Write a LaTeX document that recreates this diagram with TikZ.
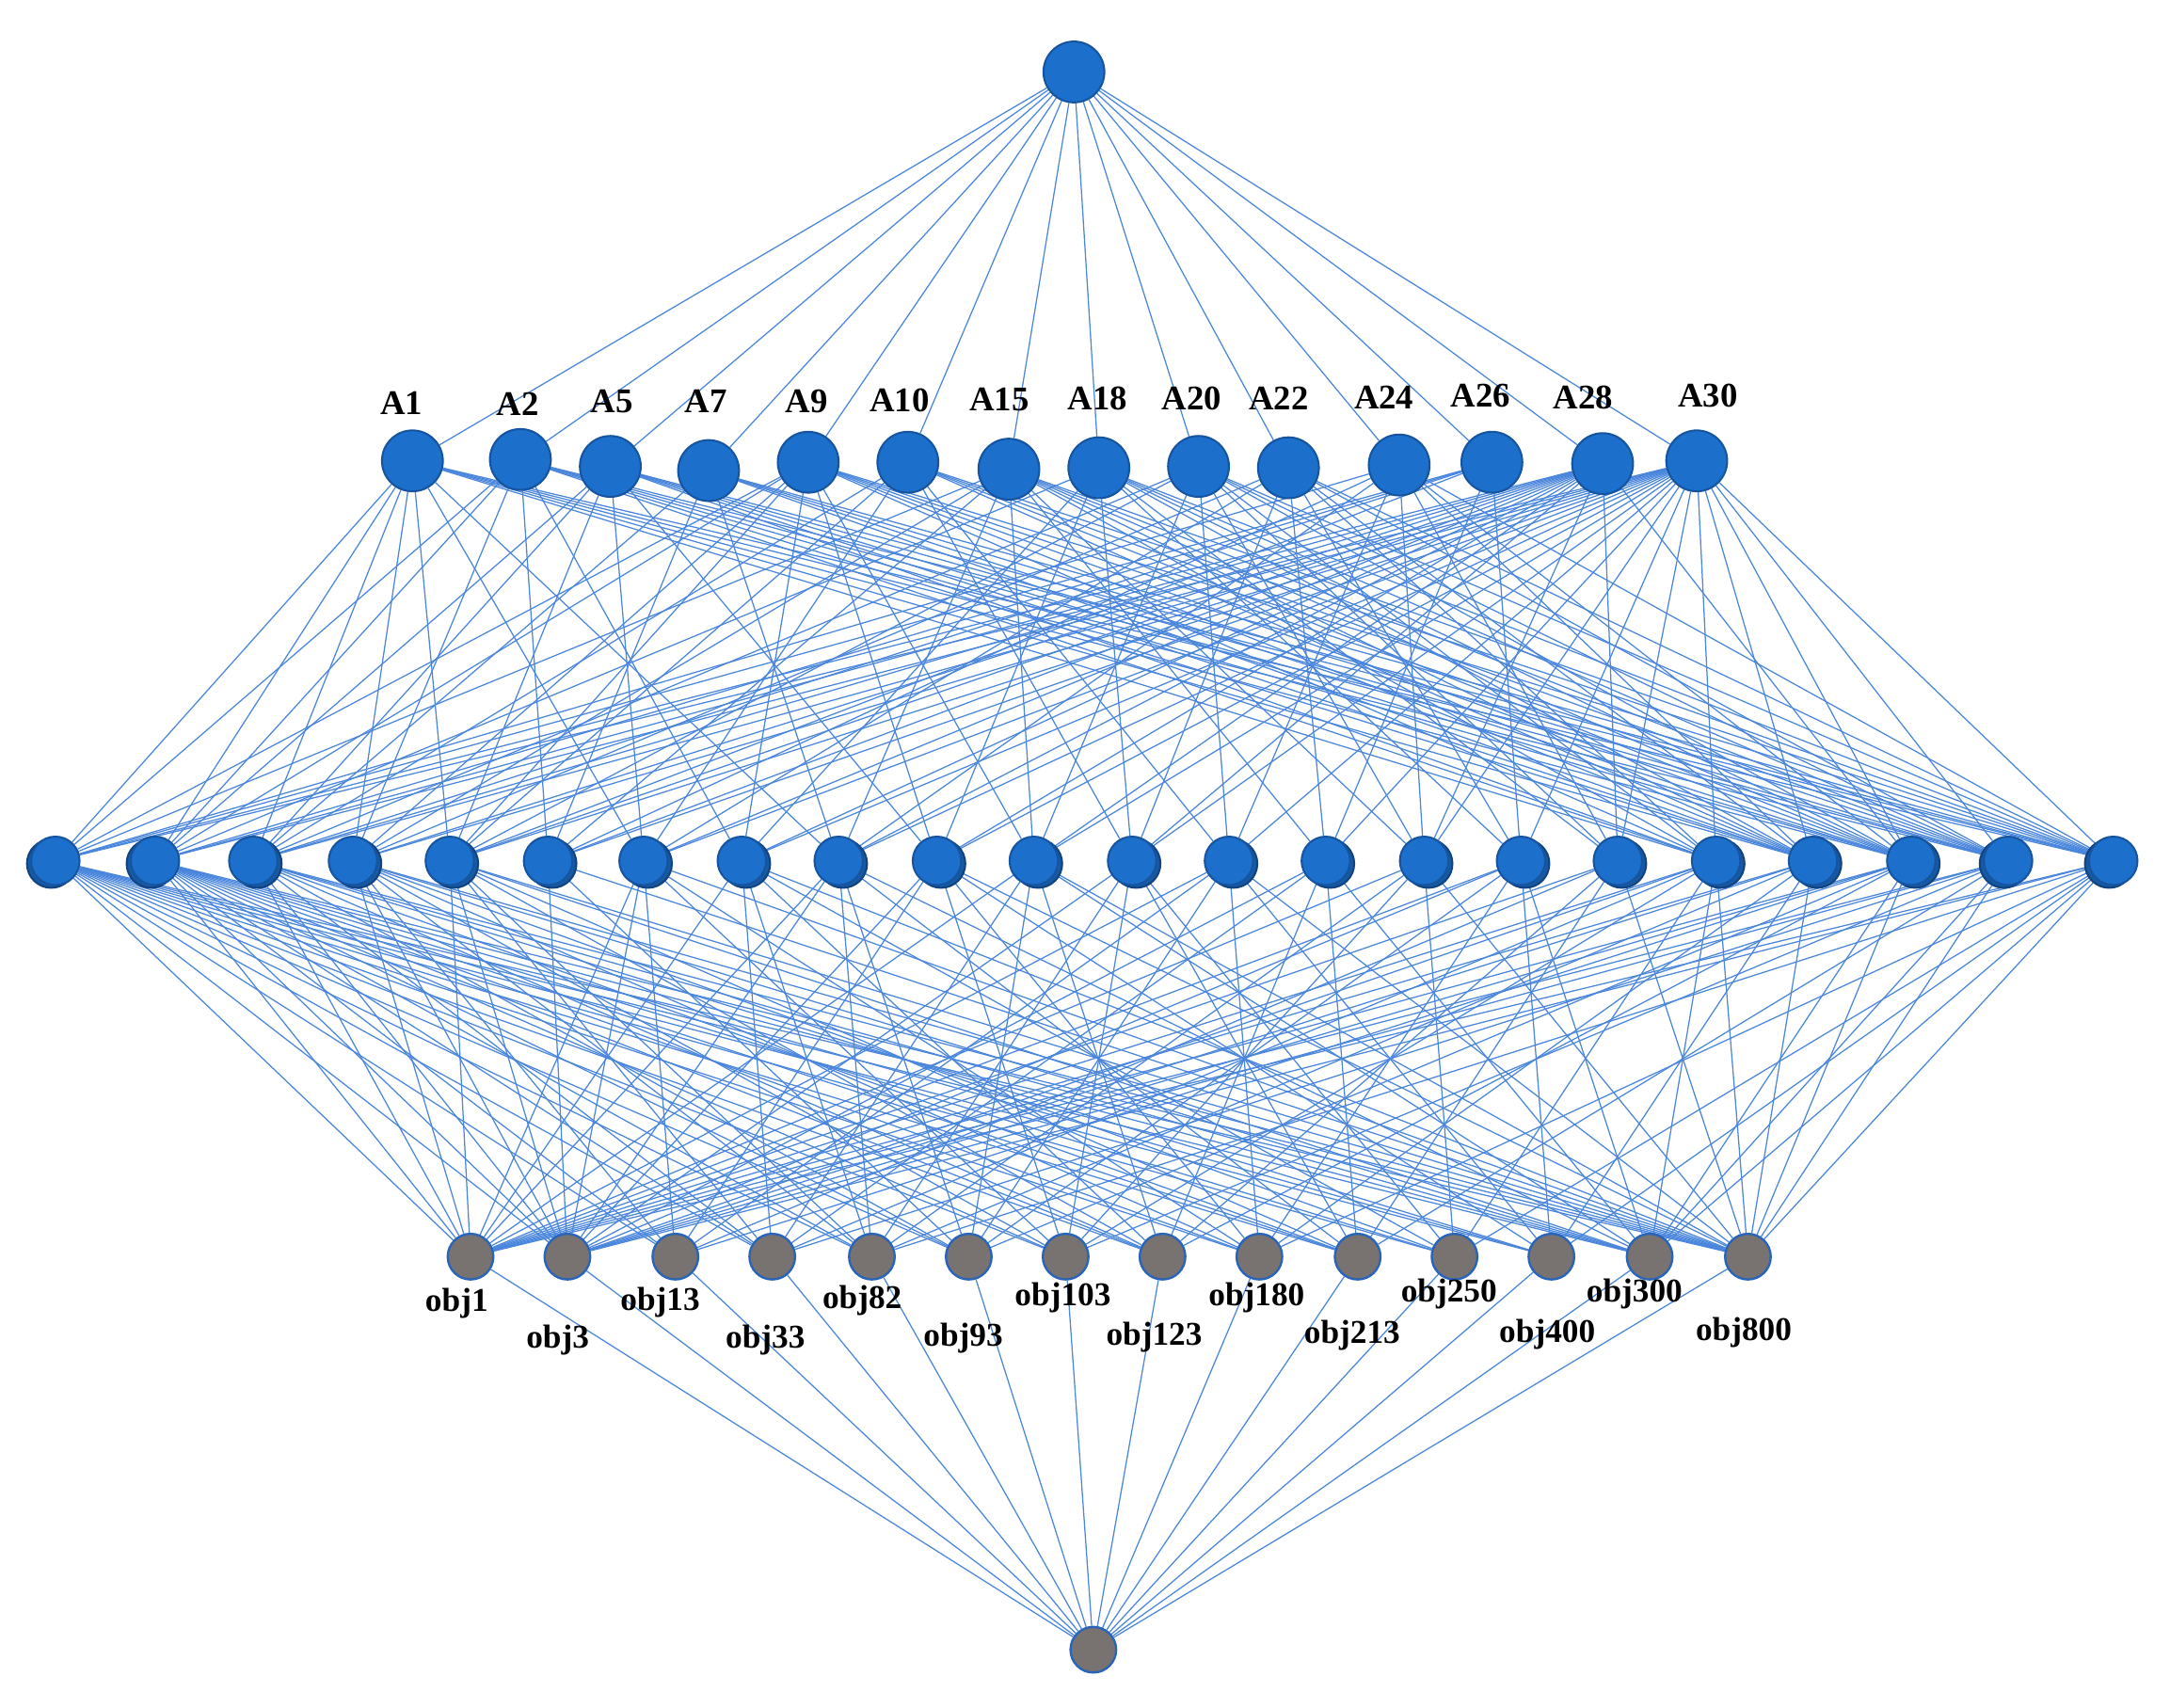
\documentclass[tikz,border=0pt]{standalone}
\usepackage{fontspec}
\setmainfont{Liberation Serif}
\usetikzlibrary{backgrounds}
\definecolor{nodeblue}{RGB}{28,112,204}
\definecolor{nodeedge}{RGB}{22,84,160}
\definecolor{objgray}{RGB}{120,114,112}
\definecolor{objedge}{RGB}{40,100,185}
\definecolor{linkblue}{RGB}{74,134,220}
\begin{document}
\begin{tikzpicture}[x=1pt,y=-1pt,
  anode/.style={circle,fill=nodeblue,draw=nodeedge,line width=1.4pt,minimum size=44pt,inner sep=0pt},
  mnode/.style={circle,fill=nodeblue,draw=nodeedge,line width=1.4pt,minimum size=35pt,inner sep=0pt},
  mback/.style={circle,fill=nodeblue!80!black,draw=nodeedge!80!black,line width=1.4pt,minimum size=35pt,inner sep=0pt},
  onode/.style={circle,fill=objgray,draw=objedge,line width=1.6pt,minimum size=33pt,inner sep=0pt},
  alabel/.style={font=\fontsize{25}{28}\selectfont\bfseries,inner sep=0pt},
  olabel/.style={font=\fontsize{24}{27}\selectfont\bfseries,inner sep=0pt},
  link/.style={draw=linkblue,line width=0.85pt}]
\useasboundingbox (0,0) rectangle (1568,1234);

% top and bottom nodes
\node[anode] (top) at (776,52) {};
\node[onode] (bot) at (790,1192) {};

% attribute nodes
\foreach \n/\x/\y/\lx/\ly/\t in {
  1/298/333/290/291/A1, 2/376/332/374/292/A2, 3/441/337/442/290/A5,
  4/512/340/510/290/A7, 5/584/334/583/290/A9, 6/656/334/650/289/A10,
  7/729/339/722/289/A15, 8/794/338/793/288/A18, 9/866/337/861/288/A20,
  10/931/338/924/288/A22, 11/1011/336/1000/287/A24, 12/1078/334/1070/286/A26,
  13/1158/335/1144/287/A28, 14/1226/333/1234/286/A30}{
  \node[anode] (a\n) at (\x,\y) {};
  \node[alabel] (la\n) at (\lx,\ly) {\t};
}

% middle (concept) nodes, drawn as a pair of overlapping circles
\foreach \n/\x/\s in {
  1/40/-3, 2/112/-3, 3/183/3, 4/255/3, 5/325/3, 6/396/3, 7/465/3, 8/536/3,
  9/606/3, 10/677/3, 11/747/3, 12/818/3, 13/888/3, 14/958/3, 15/1029/3,
  16/1099/3, 17/1169/3, 18/1240/3, 19/1310/3, 20/1381/3, 21/1451/-3, 22/1527/-3}{
  \node[mback] (mb\n) at (\x+\s,624) {};
  \node[mnode] (m\n) at (\x,622) {};
}

% object nodes
\foreach \n/\x/\lx/\ly/\t in {
  1/340/330/942/obj1, 2/410/403/968/obj3, 3/488/477/941/obj13,
  4/558/553/968/obj33, 5/630/623/940/obj82, 6/700/696/967/obj93,
  7/770/768/938/obj103, 8/840/834/966/obj123, 9/910/908/938/obj180,
  10/981/977/965/obj213, 11/1051/1047/935/obj250, 12/1121/1118/964/obj400,
  13/1192/1181/935/obj300, 14/1263/1260/963/obj800}{
  \node[onode] (o\n) at (\x,908) {};
  \node[olabel] (lo\n) at (\lx,\ly) {\t};
}

\begin{scope}[on background layer]
  % top to attributes
  \foreach \n in {1,...,14}{ \draw[link] (top) -- (a\n); }
  % bottom to objects
  \foreach \n in {1,...,14}{ \draw[link] (bot) -- (o\n); }
  % attributes to concepts
  \foreach \a/\ms in {
    1/{1,2,3,4,5,7,9,18,19,20,21,22},
    2/{1,2,4,6,8,18,19,20,21,22},
    3/{2,3,5,7,10,18,19,20,21,22},
    4/{3,6,9,19,20,21,22},
    5/{1,2,4,5,8,10,11,18,19,20,21,22},
    6/{3,5,7,12,13,19,20,21,22},
    7/{1,4,6,9,11,14,15,18,19,20,21,22},
    8/{2,8,10,12,16,17,19,20,21,22},
    9/{3,5,11,13,15,17,18,20,21,22},
    10/{4,7,12,14,16,18,19,21,22},
    11/{1,6,9,13,15,17,19,20,22},
    12/{1,2,3,5,14,16},
    13/{1,2,3,4,5,6,7,8,9,10,11,12,15,17,20},
    14/{1,2,3,4,5,6,7,8,9,10,11,12,13,14,15,16,17,18,19,20,21,22}}{
    \foreach \m in \ms { \draw[link] (a\a) -- (m\m); }
  }
  % concepts to objects
  \foreach \m/\os in {
    1/{1,2,3,4,5,6,7,8,9,10,11,12,13,14},
    2/{1,2,3,4,5,6,7,8,9,10,11,12,13,14},
    3/{1,2,4,6,8,10,12,13,14},
    4/{1,2,3,5,7,9,11,13,14},
    5/{1,2,4,5,8,10,13,14},
    6/{2,6,14},
    7/{1,2,3,7,9,14},
    8/{1,4,5,8,11,14},
    9/{1,2,5,6,10,13},
    10/{2,3,7,9,12,14},
    11/{1,4,6,8,13,14},
    12/{2,5,7,10,11},
    13/{1,3,6,9,12,14},
    14/{2,4,8,10,13},
    15/{1,5,7,11,14},
    16/{1,2,6,9,12,13},
    17/{1,3,8,10,14},
    18/{1,2,4,7,11,13,14},
    19/{1,2,5,9,12,14},
    20/{1,2,3,6,8,13,14},
    21/{1,2,4,7,10,13,14},
    22/{1,2,5,9,11,12,13,14}}{
    \foreach \o in \os { \draw[link] (m\m) -- (o\o); }
  }
\end{scope}
\end{tikzpicture}
\end{document}
